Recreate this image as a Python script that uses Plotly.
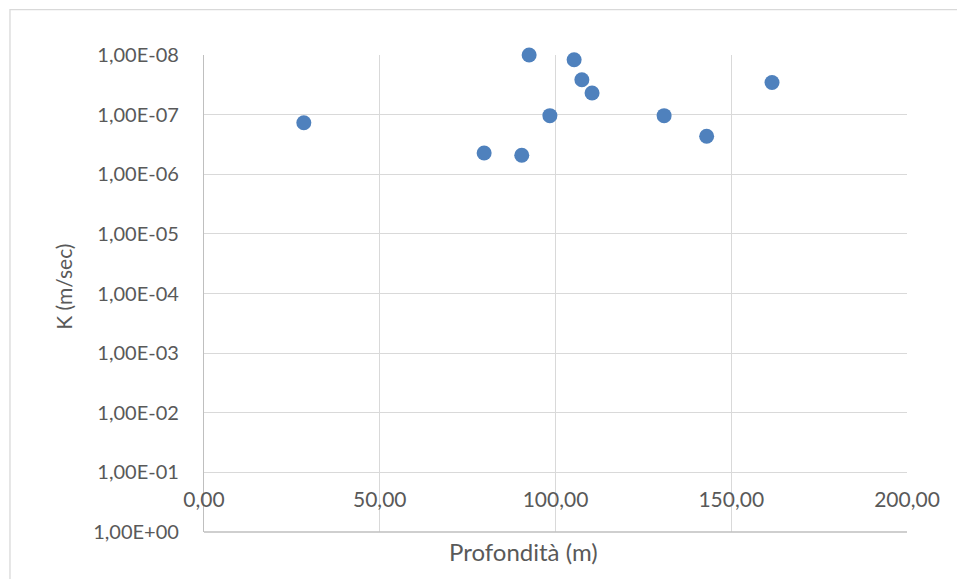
import plotly.graph_objects as go

# Hydraulic conductivity K versus depth
depth_m = [28.4, 79.7, 90.4, 92.5, 98.4, 105.3, 107.5, 110.4, 130.9, 143.0, 161.6]
k_m_sec = [1.37e-7, 4.4e-7, 4.8e-7, 1.0e-8, 1.04e-7, 1.2e-8, 2.6e-8, 4.35e-8, 1.04e-7, 2.3e-7, 2.9e-8]

y_tick_vals = [1e-8, 1e-7, 1e-6, 1e-5, 1e-4, 1e-3, 1e-2, 1e-1, 1e0]
y_tick_text = ["1,00E-08", "1,00E-07", "1,00E-06", "1,00E-05", "1,00E-04",
               "1,00E-03", "1,00E-02", "1,00E-01", "1,00E+00"]
x_tick_vals = [0, 50, 100, 150, 200]
x_tick_text = ["0,00", "50,00", "100,00", "150,00", "200,00"]

FONT = "Lato"
TEXT = "#595959"
GRID = "#D9D9D9"
AXIS = "#BFBFBF"

fig = go.Figure(
    go.Scatter(
        x=depth_m, y=k_m_sec, mode="markers",
        marker=dict(size=15, color="#4F81BD", line=dict(width=0)),
        cliponaxis=False,
    )
)

fig.update_layout(
    width=957, height=579,
    margin=dict(l=204, r=50, t=55, b=47),
    paper_bgcolor="white", plot_bgcolor="white",
    showlegend=False,
    font=dict(family=FONT, color=TEXT, size=20),
    xaxis=dict(
        range=[0, 200], tickvals=x_tick_vals, ticktext=x_tick_text,
        anchor="free", position=0.125, side="bottom",
        showgrid=True, gridcolor=GRID, gridwidth=1.3,
        showline=False, zeroline=False, ticks="",
        ticklabelstandoff=13,
        tickfont=dict(family=FONT, color=TEXT, size=21),
    ),
    yaxis=dict(
        type="log", range=[0, -8], tickvals=y_tick_vals, ticktext=y_tick_text,
        showgrid=True, gridcolor=GRID, gridwidth=1.3,
        showline=True, linecolor=AXIS, linewidth=1.3,
        zeroline=False, ticks="", ticklabelstandoff=20,
        tickfont=dict(family=FONT, color=TEXT, size=20),
    ),
    shapes=[
        # plot-area bottom edge
        dict(type="line", xref="paper", yref="paper", x0=0, x1=1, y0=0, y1=0,
             line=dict(color=AXIS, width=1.3)),
        # chart-area frame
        dict(type="rect", xref="paper", yref="paper",
             x0=-0.276, x1=1.08, y0=-0.12, y1=1.095,
             line=dict(color=GRID, width=1.3), layer="below"),
    ],
    annotations=[
        dict(text="Profondità (m)", xref="paper", yref="paper",
             x=0.4538, y=-0.04, xanchor="center", yanchor="middle",
             showarrow=False, font=dict(family=FONT, color=TEXT, size=24)),
        dict(text="K (m/sec)", xref="paper", yref="paper",
             x=-0.2, y=0.515, xanchor="center", yanchor="middle",
             textangle=-90, showarrow=False,
             font=dict(family=FONT, color=TEXT, size=21)),
    ],
)

fig.write_html("out.html")
